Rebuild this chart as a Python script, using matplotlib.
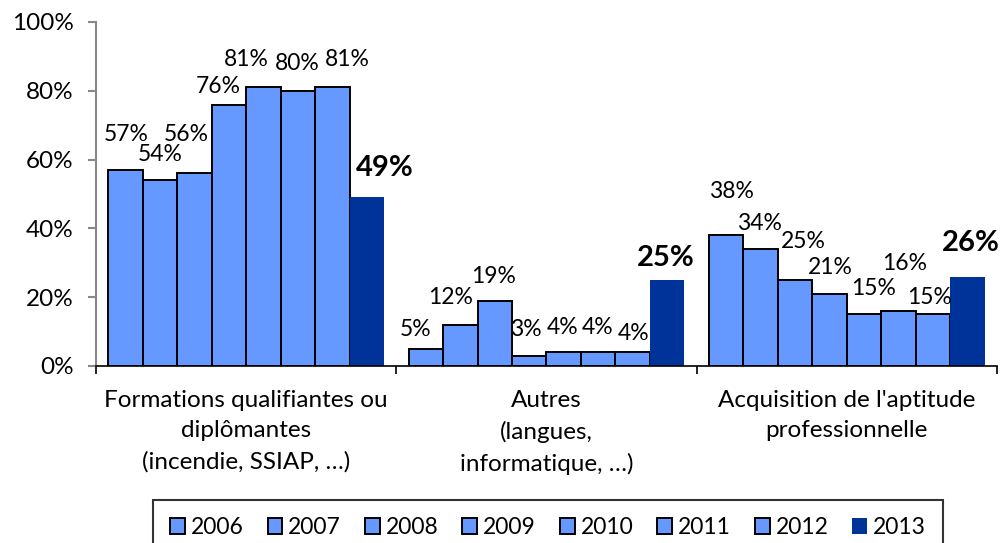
import matplotlib
matplotlib.use('Agg')
import matplotlib.pyplot as plt
import numpy as np
from matplotlib.patches import Patch
from matplotlib.ticker import FuncFormatter, FixedLocator

plt.rcParams['font.family'] = ['Lato', 'DejaVu Sans']

# données : part des formations par type et par année
categories = ['Formations qualifiantes ou\ndiplômantes\n(incendie, SSIAP, …)',
              'Autres\n(langues,\ninformatique, …)',
              "Acquisition de l'aptitude\nprofessionnelle"]
years = ['2006', '2007', '2008', '2009', '2010', '2011', '2012', '2013']
qualifiantes = [57, 54, 56, 76, 81, 80, 81, 49]
autres = [5, 12, 19, 3, 4, 4, 4, 25]
aptitude = [38, 34, 25, 21, 15, 16, 15, 26]
series = [qualifiantes, autres, aptitude]

light = '#6699FF'
dark = '#003399'

# décalage (px) des étiquettes par rapport au sommet de chaque barre
label_dx = [[1, 0, -8, -11, -17, -1, 15, 18],
            [-10, -10, -1, -3, -1, -1, 1, -1],
            [5, -1, 8, 1, 9, 6, -3, 3]]
label_dy = [[35, 26, 39, 18, 28, 27, 28, 29],
            [19, 27, 24, 26, 25, 25, 19, 22],
            [44, 26, 38, 26, 26, 47, 17, 34]]

fig = plt.figure(figsize=(10.04, 5.43), dpi=100)
ax = fig.add_axes([96 / 1004, 1 - 366 / 543, 901 / 1004, 344 / 543])

n = len(years)
w = 0.1148
for c, vals in enumerate(series):
    for i, v in enumerate(vals):
        x = c + (i - (n - 1) / 2) * w
        last = i == n - 1
        ax.bar(x, v, width=w, color=dark if last else light,
               edgecolor=dark if last else 'black', linewidth=0 if last else 1.4,
               zorder=2)
        ax.annotate(f'{v}%', xy=(x, v), xytext=(label_dx[c][i], label_dy[c][i]),
                    textcoords='offset pixels', ha='center', va='center',
                    fontsize=21 if last else 16.5,
                    fontweight='bold' if last else 'normal', color='black')

ax.set_xlim(-0.5, 2.5)
ax.set_ylim(0, 100)

for s in ['top', 'right']:
    ax.spines[s].set_visible(False)
ax.spines['left'].set_color('#888888')
ax.spines['left'].set_linewidth(1.5)
ax.spines['bottom'].set_color('black')
ax.spines['bottom'].set_linewidth(1.2)

ax.yaxis.set_major_locator(FixedLocator([0, 20, 40, 60, 80, 100]))
ax.yaxis.set_major_formatter(FuncFormatter(lambda v, p: f'{v:.0f}%'))
ax.tick_params(axis='y', length=6, width=1.5, color='#888888', pad=10, labelsize=17.5)

ax.set_xticks([0, 1, 2])
ax.set_xticklabels(categories, fontsize=17.5, linespacing=1.55)
ax.set_xticks([-0.5, 0.5, 1.5, 2.5], minor=True)
ax.tick_params(axis='x', which='major', length=0, pad=17)
ax.tick_params(axis='x', which='minor', length=6, width=1.2, color='black')

handles = [Patch(facecolor=light, edgecolor='black', linewidth=1.4) for _ in years[:-1]]
handles.append(Patch(facecolor=dark, edgecolor=dark, linewidth=0))
leg = fig.legend(handles, years, loc='upper center', ncol=n,
                 bbox_to_anchor=(548 / 1004, 1 - 500 / 543), borderaxespad=0,
                 fontsize=16.5, frameon=True, fancybox=False,
                 handlelength=0.65, handleheight=0.65, handletextpad=0.25,
                 columnspacing=1.05, borderpad=0.75)
leg.get_frame().set_edgecolor('black')
leg.get_frame().set_linewidth(1.5)

fig.savefig('out.png', dpi=100)
